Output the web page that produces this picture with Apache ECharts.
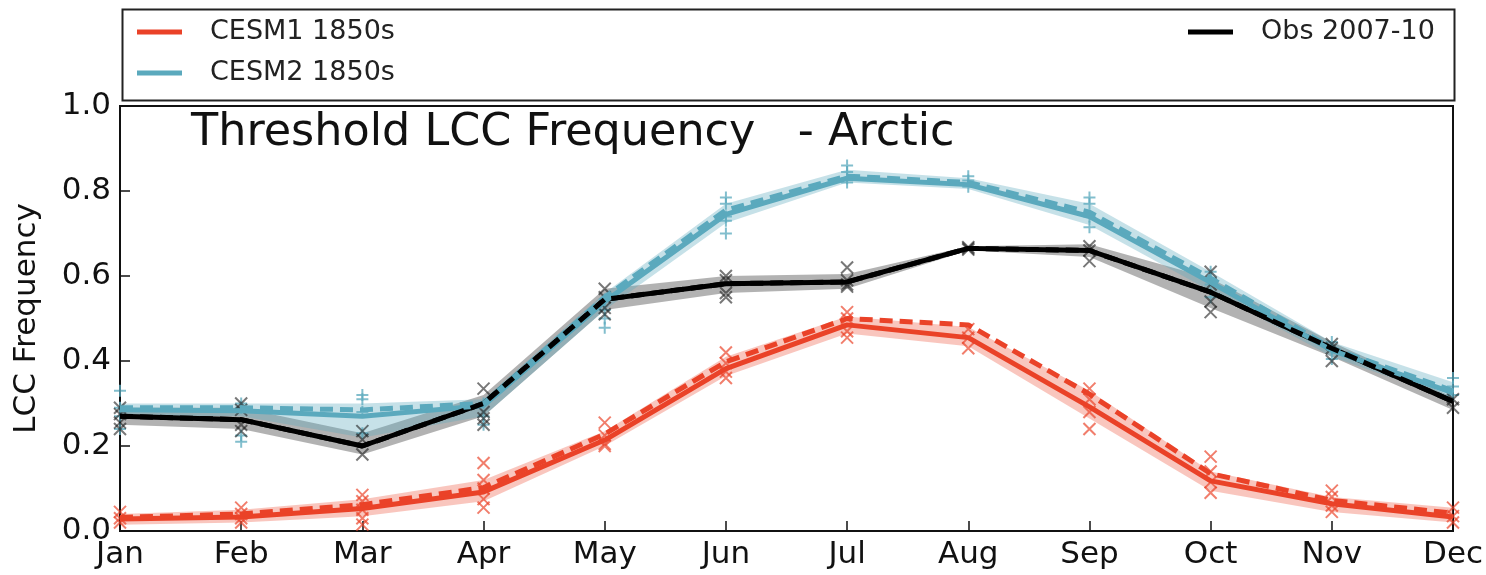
<!DOCTYPE html>
<html>
<head>
<meta charset="utf-8">
<title>Threshold LCC Frequency - Arctic</title>
<script src="https://cdn.jsdelivr.net/npm/echarts@6/dist/echarts.min.js"></script>
<style>
  html, body { margin: 0; padding: 0; background: #fff; }
  #chart { width: 1486px; height: 575px; }
</style>
</head>
<body>
<div id="chart"></div>
<script>
// Months on the x axis
const months = ['Jan','Feb','Mar','Apr','May','Jun','Jul','Aug','Sep','Oct','Nov','Dec'];
const yTicks = [0.0, 0.2, 0.4, 0.6, 0.8, 1.0];

// CESM1 1850s: ensemble mean (solid), alternate estimate (dashed), spread band, members
const cesm1Mean   = [0.028,0.033,0.053,0.092,0.214,0.382,0.485,0.455,0.292,0.118,0.064,0.033];
const cesm1Dashed = [0.032,0.040,0.062,0.102,0.228,0.398,0.500,0.485,0.322,0.135,0.072,0.042];
const cesm1Low    = [0.015,0.020,0.035,0.070,0.200,0.365,0.465,0.435,0.265,0.095,0.045,0.020];
const cesm1High   = [0.040,0.050,0.075,0.120,0.235,0.410,0.505,0.480,0.330,0.140,0.080,0.055];
const cesm1Members = [
  [0.045,0.030,0.020],
  [0.055,0.040,0.030,0.020],
  [0.085,0.070,0.050,0.030,0.015],
  [0.160,0.120,0.100,0.075,0.055],
  [0.255,0.225,0.205,0.200],
  [0.420,0.395,0.375,0.360],
  [0.515,0.500,0.470,0.455],
  [0.475,0.455,0.430],
  [0.335,0.310,0.280,0.240],
  [0.175,0.140,0.115,0.090],
  [0.095,0.080,0.060,0.045],
  [0.055,0.035,0.020]
];

// CESM2 1850s
const cesm2Mean   = [0.285,0.283,0.270,0.295,0.540,0.745,0.830,0.815,0.740,0.585,0.425,0.325];
const cesm2Dashed = [0.290,0.290,0.285,0.300,0.550,0.755,0.835,0.820,0.750,0.595,0.430,0.330];
const cesm2Low    = [0.270,0.270,0.220,0.270,0.520,0.725,0.820,0.805,0.720,0.565,0.410,0.310];
const cesm2High   = [0.300,0.300,0.300,0.310,0.560,0.770,0.850,0.830,0.770,0.610,0.445,0.350];
const cesm2Members = [
  [0.330,0.290,0.270,0.240],
  [0.300,0.290,0.225,0.210],
  [0.320,0.310,0.280,0.230],
  [0.300,0.270,0.250],
  [0.545,0.520,0.500,0.478],
  [0.785,0.770,0.740,0.730,0.700],
  [0.860,0.845,0.830,0.820],
  [0.835,0.825,0.810],
  [0.785,0.770,0.740,0.715],
  [0.610,0.595,0.580,0.550],
  [0.445,0.430,0.405],
  [0.360,0.340,0.320]
];

// Observations 2007-10
const obsMean   = [0.270,0.262,0.200,0.300,0.545,0.582,0.586,0.665,0.660,0.562,0.430,0.305];
const obsDashed = [0.270,0.262,0.200,0.300,0.545,0.582,0.586,0.665,0.660,0.562,0.430,0.305];
const obsLow    = [0.250,0.240,0.180,0.270,0.520,0.560,0.570,0.660,0.645,0.525,0.410,0.285];
const obsHigh   = [0.290,0.290,0.230,0.320,0.570,0.600,0.605,0.670,0.675,0.595,0.445,0.315];
const obsYears = [
  [0.290,0.275,0.255,0.240],
  [0.300,0.285,0.250,0.235],
  [0.235,0.215,0.180],
  [0.335,0.280,0.265,0.250],
  [0.570,0.550,0.525,0.510],
  [0.600,0.590,0.560,0.550],
  [0.620,0.590,0.580,0.575],
  [0.668,0.665,0.662],
  [0.670,0.660,0.635],
  [0.610,0.580,0.540,0.515],
  [0.440,0.430,0.400],
  [0.310,0.290]
];

const RED = '#ea4228';
const CYAN = '#5ba9bd';
const BLACK = '#000000';
const FONT = 'DejaVu Sans';

const crossPath = 'path://M0,0L10,10M10,0L0,10';
const plusPath = 'path://M5,0L5,10M0,5L10,5';

// Shaded spread: invisible lower edge plus stacked thickness with fill
function band(id, low, high, fill, z) {
  return [
    { type: 'line', name: id + ' low', stack: id, data: low, symbol: 'none',
      lineStyle: { opacity: 0 }, silent: true, z: z },
    { type: 'line', name: id + ' spread', stack: id,
      data: high.map((h, i) => +(h - low[i]).toFixed(4)),
      symbol: 'none', lineStyle: { opacity: 0 }, areaStyle: { color: fill, opacity: 1 },
      silent: true, z: z }
  ];
}

function members(name, rows, path, color, size) {
  return {
    type: 'scatter', name: name,
    data: rows.flatMap((vals, i) => vals.map(v => [i, v])),
    symbol: path, symbolSize: size,
    itemStyle: { color: 'rgba(0,0,0,0)', borderColor: color, borderWidth: 2 },
    silent: true, z: 4
  };
}

function line(name, data, color, dashed, z) {
  return {
    type: 'line', name: name, data: data, color: color, symbol: 'none',
    lineStyle: { color: color, width: 5, type: dashed ? [13, 7] : 'solid' },
    silent: true, z: z
  };
}

const series = [].concat(
  band('obsBand', obsLow, obsHigh, 'rgba(0,0,0,0.30)', 1),
  band('cesm1Band', cesm1Low, cesm1High, 'rgba(234,66,40,0.30)', 1),
  band('cesm2Band', cesm2Low, cesm2High, 'rgba(91,169,189,0.35)', 1),
  [
    members('CESM1 members', cesm1Members, crossPath, 'rgba(234,66,40,0.85)', 12),
    members('CESM2 members', cesm2Members, plusPath, 'rgba(91,169,189,0.95)', 12),
    members('Obs years', obsYears, crossPath, 'rgba(30,30,30,0.75)', 12),
    line('Obs 2007-10', obsMean, BLACK, false, 5),
    line('CESM1 1850s', cesm1Mean, RED, false, 6),
    line('CESM1 1850s dashed', cesm1Dashed, RED, true, 6),
    line('CESM2 1850s', cesm2Mean, CYAN, false, 7),
    line('CESM2 1850s dashed', cesm2Dashed, CYAN, true, 7),
    line('Obs 2007-10 dashed', obsDashed, BLACK, true, 8)
  ]
);

const legendText = { fontSize: 27, fontFamily: FONT, color: '#222', padding: [0, 0, 0, 23], lineHeight: 30 };

const chart = echarts.init(document.getElementById('chart'), null, { renderer: 'canvas' });
chart.setOption({
  animation: false,
  backgroundColor: '#ffffff',
  textStyle: { fontFamily: FONT },
  title: {
    text: 'Threshold LCC Frequency   - Arctic',
    left: 186, top: 106,
    textStyle: { fontSize: 44.5, fontWeight: 'normal', fontFamily: FONT, color: '#111' }
  },
  legend: [
    { data: ['CESM1 1850s', 'CESM2 1850s'], orient: 'vertical', left: 137, top: 17, padding: 0,
      icon: 'rect', itemWidth: 45, itemHeight: 5, itemGap: 11, selectedMode: false,
      textStyle: legendText },
    { data: ['Obs 2007-10'], orient: 'vertical', left: 1188, top: 17, padding: 0,
      icon: 'rect', itemWidth: 45, itemHeight: 5, selectedMode: false,
      textStyle: legendText }
  ],
  graphic: [
    { type: 'rect', left: 120, top: 7, z: 0,
      shape: { width: 1332, height: 91 },
      style: { fill: 'none', stroke: '#222', lineWidth: 2 } }
  ],
  grid: { left: 120, right: 33, top: 106, bottom: 44, show: true,
          borderColor: '#111', borderWidth: 2, backgroundColor: 'transparent' },
  xAxis: {
    type: 'category', data: months, boundaryGap: false,
    axisLine: { lineStyle: { color: '#111', width: 2 } },
    axisTick: { inside: true, length: 10, alignWithLabel: true, interval: 0, lineStyle: { color: '#111', width: 1.5 } },
    axisLabel: { fontSize: 31, color: '#111', fontFamily: FONT, margin: 8, interval: 0, showMinLabel: true, showMaxLabel: true },
    splitLine: { show: false }
  },
  yAxis: {
    type: 'value', min: 0, max: 1, interval: 0.2,
    name: 'LCC Frequency', nameLocation: 'middle', nameRotate: 90, nameGap: 78,
    nameTextStyle: { fontSize: 31, color: '#111', fontFamily: FONT },
    axisLine: { show: true, lineStyle: { color: '#111', width: 2 } },
    axisTick: { show: true, inside: true, length: 10, lineStyle: { color: '#111', width: 1.5 } },
    axisLabel: { fontSize: 31, color: '#111', fontFamily: FONT, margin: 9,
                 formatter: v => yTicks.includes(+v.toFixed(1)) ? v.toFixed(1) : '' },
    splitLine: { show: false }
  },
  series: series
});
</script>
</body>
</html>
